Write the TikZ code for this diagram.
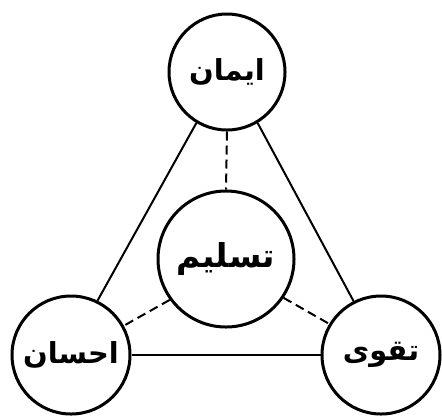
\documentclass[tikz,border=0pt]{standalone}
\usepackage{fontspec}
\newfontfamily\arabicfont[Script=Arabic]{DejaVu Sans}
\TeXXeTstate=1
\tikzset{
  circ/.style={draw, circle, line width=3bp, inner sep=0pt, font=\arabicfont\bfseries\fontsize{29}{34}\selectfont},
  solidline/.style={line width=2bp},
  dashline/.style={line width=2bp, dash pattern=on 9bp off 5bp}
}
\begin{document}
\begin{tikzpicture}[x=1bp,y=-1bp]
\useasboundingbox (0,0) rectangle (442,416);
\fill[white] (0,0) rectangle (442,416);
\node[circ, minimum size=116bp] (iman) at (227,72) {\beginR ایمان\endR};
\node[circ, minimum size=136bp, font=\arabicfont\bfseries\fontsize{33}{38}\selectfont] (taslim) at (226,259) {\beginR تسلیم\endR};
\node[circ, minimum size=118bp] (ehsan) at (71,355) {\beginR احسان\endR};
\node[circ, minimum size=118bp] (taqwa) at (381,355) {\beginR تقوی\endR};
\draw[solidline] (iman.239) -- (ehsan.64);
\draw[solidline] (iman.301) -- (taqwa.117);
\draw[solidline] (ehsan.east) -- (taqwa.west);
\draw[dashline] (iman.south) -- (taslim.north);
\draw[dashline] (taslim.216) -- (ehsan.29);
\draw[dashline] (taslim.326) -- (taqwa.149);
\end{tikzpicture}
\end{document}
